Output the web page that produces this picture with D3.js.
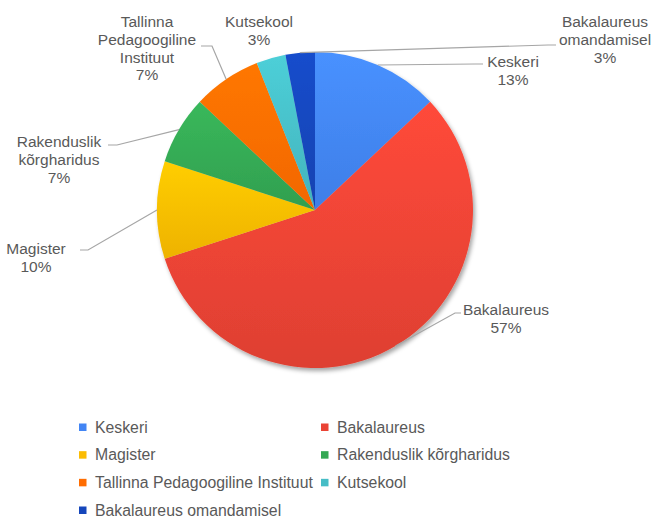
<!DOCTYPE html>
<html>
<head>
<meta charset="utf-8">
<script src="https://cdn.jsdelivr.net/npm/d3@7"></script>
<style>
  body { margin: 0; background: #fff; }
  svg text { font-family: "Liberation Sans", Arial, sans-serif; fill: #595959; }
</style>
</head>
<body>
<div id="chart"></div>
<script>
// chart data
const categories = ["Keskeri", "Bakalaureus", "Magister", "Rakenduslik kõrgharidus",
  "Tallinna Pedagoogiline Instituut", "Kutsekool", "Bakalaureus omandamisel"];
const values = [13, 57, 10, 7, 7, 3, 3];
const labelLines = [
  ["Keskeri"], ["Bakalaureus"], ["Magister"], ["Rakenduslik", "kõrgharidus"],
  ["Tallinna", "Pedagoogiline", "Instituut"], ["Kutsekool"], ["Bakalaureus", "omandamisel"]
];
const colors = ["#4285f4", "#ea4335", "#fbbc04", "#34a853", "#ff6d01", "#46bdc6", "#1546bb"];

// layout (label anchors + leader elbows), kept apart from the data
const width = 656, height = 520;
const cx = 315, cy = 210, radius = 158;
const labelLayout = [
  {x: 513, y: 67, elbow: [475, 64], end: [483, 64]},
  {x: 506, y: 315, elbow: [455, 313], end: [461, 313]},
  {x: 36, y: 254, elbow: [88, 250], end: [80, 250]},
  {x: 59, y: 147, elbow: [117, 145], end: [108, 145]},
  {x: 147, y: 27, elbow: [212, 46], end: [201, 46]},
  {x: 259, y: 27, elbow: null, end: null},
  {x: 605, y: 27, elbow: [548, 45], end: [556, 45]}
];
const lineH = 17.8;

const svg = d3.select("#chart").append("svg")
  .attr("width", width)
  .attr("height", height);

const defs = svg.append("defs");
defs.append("filter")
  .attr("id", "shadow")
  .attr("x", "-10%").attr("y", "-10%").attr("width", "125%").attr("height", "125%")
  .append("feDropShadow")
  .attr("dx", 2).attr("dy", 3).attr("stdDeviation", 2.2)
  .attr("flood-color", "#000").attr("flood-opacity", 0.35);

colors.forEach((c, i) => {
  const g = defs.append("linearGradient")
    .attr("id", "grad" + i)
    .attr("x1", 0).attr("y1", 0).attr("x2", 0).attr("y2", 1);
  g.append("stop").attr("offset", "0%").attr("stop-color", d3.color(c).brighter(0.25));
  g.append("stop").attr("offset", "100%").attr("stop-color", d3.color(c).darker(0.15));
});

const data = categories.map((name, i) => ({name, value: values[i], i}));

const pie = d3.pie().value(d => d.value).sort(null);
const arcs = pie(data);
const arc = d3.arc().innerRadius(0).outerRadius(radius);

const chart = svg.append("g").attr("transform", `translate(${cx},${cy})`);

chart.append("g")
  .attr("filter", "url(#shadow)")
  .selectAll("path")
  .data(arcs)
  .enter().append("path")
    .attr("d", arc)
    .attr("fill", d => `url(#grad${d.data.i})`);

// leader lines
const edge = d => {
  const a = (d.startAngle + d.endAngle) / 2;
  return [cx + radius * Math.sin(a), cy - radius * Math.cos(a)];
};

svg.append("g")
  .selectAll("polyline")
  .data(arcs.filter(d => labelLayout[d.data.i].elbow))
  .enter().append("polyline")
    .attr("points", d => {
      const l = labelLayout[d.data.i];
      return [edge(d), l.elbow, l.end].map(p => p.join(",")).join(" ");
    })
    .attr("fill", "none")
    .attr("stroke", "#a6a6a6")
    .attr("stroke-width", 1.2);

// data labels
const labels = svg.append("g")
  .selectAll("text")
  .data(arcs)
  .enter().append("text")
    .attr("text-anchor", "middle")
    .attr("font-size", "15.5px")
    .attr("x", d => labelLayout[d.data.i].x)
    .attr("y", d => labelLayout[d.data.i].y);

labels.each(function(d) {
  const t = d3.select(this);
  const l = labelLayout[d.data.i];
  const lines = labelLines[d.data.i].concat([d.data.value + "%"]);
  lines.forEach((s, k) => {
    t.append("tspan").attr("x", l.x).attr("dy", k === 0 ? 0 : lineH).text(s);
  });
});

// legend
const legendX = d3.scaleOrdinal().domain([0, 1]).range([79, 321]);
const legendY = d3.scaleLinear().domain([0, 3]).range([427, 510]);

const legend = svg.append("g")
  .selectAll("g")
  .data(data)
  .enter().append("g")
    .attr("transform", d => `translate(${legendX(d.i % 2)},${legendY(Math.floor(d.i / 2))})`);

legend.append("rect")
  .attr("x", 0).attr("y", -3.5)
  .attr("width", 7.5).attr("height", 7.5)
  .attr("fill", d => colors[d.i]);

legend.append("text")
  .attr("x", 16)
  .attr("dy", "0.35em")
  .attr("font-size", "15.8px")
  .text(d => d.name);
</script>
</body>
</html>
